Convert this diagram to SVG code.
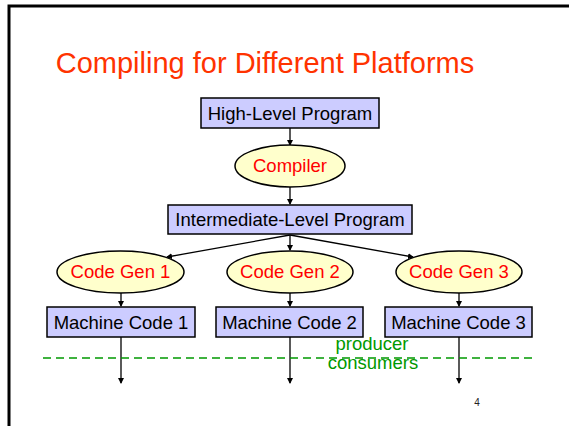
<svg xmlns="http://www.w3.org/2000/svg" width="569" height="426" viewBox="0 0 569 426">
<defs>
<marker id="ah" markerWidth="6" markerHeight="6" refX="5" refY="3" orient="auto" markerUnits="userSpaceOnUse">
<path d="M0,0 L6,3 L0,6 Z" fill="#000"/>
</marker>
<style>
.box{fill:#CCCCFF;stroke:#000;stroke-width:1.5}
.ell{fill:#FFFFCC;stroke:#000;stroke-width:1.5}
.bt{font-family:"Liberation Sans",Arial,sans-serif;font-size:18.5px;fill:#000;text-anchor:middle}
.et{font-family:"Liberation Sans",Arial,sans-serif;font-size:18.5px;fill:#FF0000;text-anchor:middle}
.gt{font-family:"Liberation Sans",Arial,sans-serif;font-size:18.5px;fill:#009900;text-anchor:middle}
.arr{stroke:#000;stroke-width:1.3;fill:none;marker-end:url(#ah)}
</style>
</defs>
<rect width="569" height="426" fill="#fff"/>
<path d="M9,426 L9,6 L569,6" fill="none" stroke="#000" stroke-width="3"/>
<text x="265" y="73" font-family="'Liberation Sans',Arial,sans-serif" font-size="29" fill="#FF3300" text-anchor="middle">Compiling for Different Platforms</text>
<g id="connectors">
<line class="arr" x1="290" y1="128" x2="290" y2="145"/>
<line class="arr" x1="290" y1="187" x2="290" y2="204"/>
<line class="arr" x1="290" y1="235" x2="167" y2="257"/>
<line class="arr" x1="290" y1="235" x2="290" y2="250"/>
<line class="arr" x1="290" y1="235" x2="413" y2="257"/>
<line class="arr" x1="121" y1="293" x2="121" y2="306"/>
<line class="arr" x1="290" y1="293" x2="290" y2="306"/>
<line class="arr" x1="459" y1="293" x2="459" y2="306"/>
<line class="arr" x1="121" y1="337" x2="121" y2="383"/>
<line class="arr" x1="290" y1="337" x2="290" y2="383"/>
<line class="arr" x1="459" y1="337" x2="459" y2="383"/>
</g>
<g id="divider">
<line x1="43" y1="358" x2="534" y2="358" stroke="#009900" stroke-width="1.5" stroke-dasharray="8,5"/>
<text class="gt" x="372" y="350">producer</text>
<text class="gt" x="373" y="369">consumers</text>
</g>
<g id="high"><rect class="box" x="201" y="98" width="178" height="30"/><text class="bt" x="290" y="120">High-Level Program</text></g>
<g id="compiler"><ellipse class="ell" cx="290" cy="166" rx="55" ry="21"/><text class="et" x="290" y="172">Compiler</text></g>
<g id="intermediate"><rect class="box" x="168" y="205" width="244" height="29"/><text class="bt" x="290" y="226">Intermediate-Level Program</text></g>
<g id="cg1"><ellipse class="ell" cx="120.5" cy="272" rx="63.5" ry="21"/><text class="et" x="120.5" y="278">Code Gen 1</text></g>
<g id="cg2"><ellipse class="ell" cx="290" cy="272" rx="63" ry="21"/><text class="et" x="290" y="278">Code Gen 2</text></g>
<g id="cg3"><ellipse class="ell" cx="459" cy="272" rx="63" ry="21"/><text class="et" x="459" y="278">Code Gen 3</text></g>
<g id="mc1"><rect class="box" x="47" y="307" width="148" height="30"/><text class="bt" x="121" y="329">Machine Code 1</text></g>
<g id="mc2"><rect class="box" x="216" y="307" width="147" height="30"/><text class="bt" x="289.5" y="329">Machine Code 2</text></g>
<g id="mc3"><rect class="box" x="385" y="307" width="147" height="30"/><text class="bt" x="458.5" y="329">Machine Code 3</text></g>
<text x="477" y="406" font-family="'Liberation Sans',Arial,sans-serif" font-size="10" fill="#222" text-anchor="middle">4</text>
</svg>
